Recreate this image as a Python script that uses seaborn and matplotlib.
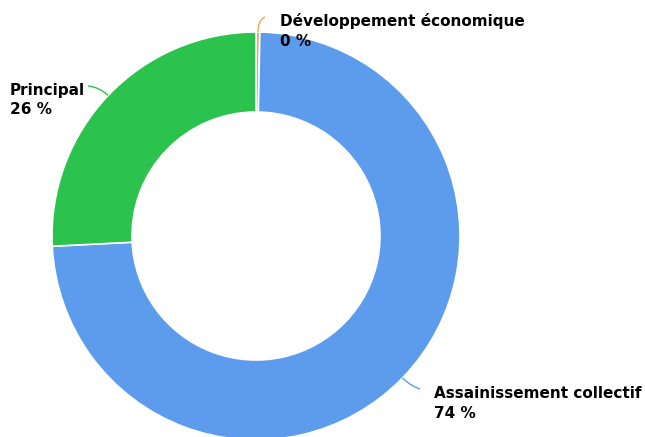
import numpy as np
import matplotlib
matplotlib.use("Agg")
import matplotlib.pyplot as plt
from matplotlib.path import Path
from matplotlib.patches import PathPatch
import seaborn as sns

# Budget shares by domain (percent), in drawing order clockwise from 12 o'clock
categories = ["Développement économique", "Assainissement collectif", "Principal"]
shares = [0.3, 73.9, 25.8]
pct_labels = ["0 %", "74 %", "26 %"]
colors = ["#f7a35c", "#5d9cec", "#2bc24e"]

sns.set_theme(style="white")
plt.rcParams["font.family"] = ["DejaVu Sans"]

W, H = 645, 437
fig = plt.figure(figsize=(W / 100, H / 100), dpi=100)
ax = fig.add_axes([0, 0, 1, 1])

cx, cy = 256, H - 236
r_out, r_in = 204, 124

wedges, _ = ax.pie(
    shares, colors=colors, center=(cx, cy), radius=r_out,
    startangle=90, counterclock=False,
    wedgeprops=dict(width=r_out - r_in, edgecolor="white", linewidth=1.2),
)

ax.set_xlim(0, W)
ax.set_ylim(0, H)
ax.set_aspect("equal")
ax.axis("off")

# label anchor (left edge of text, vertical centre of first line)
label_pos = {
    "Développement économique": (280, H - 21),
    "Assainissement collectif": (434, H - 393),
    "Principal": (10, H - 90),
}
conn_end = {
    "Développement économique": (265, H - 17),
    "Assainissement collectif": (420, H - 389),
    "Principal": (88, H - 86),
}

for w, cat, pl, col in zip(wedges, categories, pct_labels, colors):
    mid = np.deg2rad((w.theta1 + w.theta2) / 2)
    p0 = (cx + r_out * np.cos(mid), cy + r_out * np.sin(mid))
    p1 = (cx + (r_out + 12) * np.cos(mid), cy + (r_out + 12) * np.sin(mid))
    p2 = conn_end[cat]
    path = Path([p0, p1, p2], [Path.MOVETO, Path.CURVE3, Path.CURVE3])
    ax.add_patch(PathPatch(path, fill=False, edgecolor=col, lw=1.0))
    x, y = label_pos[cat]
    ax.text(x, y, cat, ha="left", va="center", fontsize=11, fontweight="bold", color="#000000")
    ax.text(x, y - 20, pl, ha="left", va="center", fontsize=11, fontweight="bold", color="#000000")

fig.savefig("out.png", dpi=100, facecolor="white")
